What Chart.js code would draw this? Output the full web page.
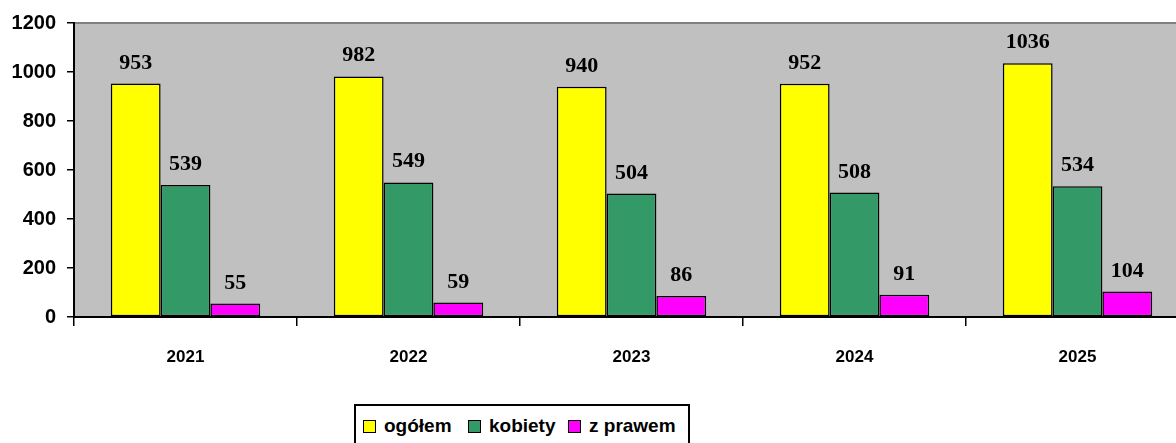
<!DOCTYPE html>
<html>
<head>
<meta charset="utf-8">
<script src="https://cdn.jsdelivr.net/npm/chart.js@4"></script>
<style>
    body { margin: 0; background: #fff; overflow: hidden; }
    #wrap { position: relative; width: 1200px; height: 443px; }
    #legend {
        position: absolute; left: 354px; top: 404px; width: 336px; height: 50px;
        border: 2px solid #000; box-sizing: border-box; background: #fff;
        font: bold 19px Arial, "Liberation Sans", sans-serif; color: #000;
    }
    #legend span.item { position: absolute; top: 9px; white-space: nowrap; }
    #legend i {
        display: inline-block; width: 11px; height: 11px; border: 1.5px solid #000;
        margin-right: 8px; vertical-align: -1px;
    }
</style>
</head>
<body>
<div id="wrap">
    <canvas id="chart" width="1200" height="443"></canvas>
    <div id="legend"></div>
</div>
<script>
const years = ['2021', '2022', '2023', '2024', '2025'];
const ogolem = [953, 982, 940, 952, 1036];
const kobiety = [539, 549, 504, 508, 534];
const zPrawem = [55, 59, 86, 91, 104];
const yTicks = [0, 200, 400, 600, 800, 1000, 1200];

document.addEventListener('DOMContentLoaded', function() {
    const series = [
        { label: 'ogółem', data: ogolem, color: '#ffff00' },
        { label: 'kobiety', data: kobiety, color: '#339966' },
        { label: 'z prawem', data: zPrawem, color: '#ff00ff' }
    ];

    // plot background and top border line
    const plotBg = {
        id: 'plotBg',
        beforeDraw(chart) {
            const a = chart.chartArea, ctx = chart.ctx;
            ctx.save();
            ctx.fillStyle = '#c0c0c0';
            ctx.fillRect(a.left, a.top, a.right - a.left, a.bottom - a.top);
            ctx.strokeStyle = '#808080';
            ctx.lineWidth = 2;
            ctx.beginPath();
            ctx.moveTo(a.left, a.top);
            ctx.lineTo(a.right, a.top);
            ctx.stroke();
            ctx.restore();
        }
    };

    // value labels above bars
    const valueLabels = {
        id: 'valueLabels',
        afterDatasetsDraw(chart) {
            const ctx = chart.ctx;
            ctx.save();
            ctx.font = 'bold 22px "Times New Roman", "Liberation Serif", serif';
            ctx.fillStyle = '#000';
            ctx.textAlign = 'center';
            ctx.textBaseline = 'alphabetic';
            chart.data.datasets.forEach(function(ds, i) {
                chart.getDatasetMeta(i).data.forEach(function(bar, j) {
                    ctx.fillText(ds.data[j], bar.x, bar.y - 15);
                });
            });
            ctx.restore();
        }
    };

    const ctx = document.getElementById('chart').getContext('2d');
    new Chart(ctx, {
        type: 'bar',
        data: {
            labels: years,
            datasets: series.map(function(s) {
                return {
                    label: s.label,
                    data: s.data,
                    backgroundColor: s.color,
                    borderColor: '#000',
                    borderWidth: 1.5,
                    borderSkipped: false,
                    categoryPercentage: 0.67,
                    barPercentage: 1.0
                };
            })
        },
        options: {
            responsive: false,
            animation: false,
            layout: { padding: { top: 23, right: 11, left: 0, bottom: 0 } },
            plugins: {
                legend: { display: false },
                tooltip: { enabled: false }
            },
            scales: {
                x: {
                    grid: { display: true, drawOnChartArea: false, offset: true, color: '#000', lineWidth: 1.5, tickLength: 9 },
                    border: { color: '#000', width: 2 },
                    ticks: { color: '#000', font: { family: 'Arial', weight: 'bold', size: 17 }, padding: 21 },
                    afterFit(scale) { scale.height = 126; }
                },
                y: {
                    min: 0,
                    max: 1200,
                    afterBuildTicks(scale) { scale.ticks = yTicks.map(function(v) { return { value: v }; }); },
                    grid: { display: true, drawOnChartArea: false, color: '#000', lineWidth: 1.5, tickLength: 7 },
                    border: { color: '#000', width: 2 },
                    ticks: {
                        color: '#000',
                        font: { family: 'Arial', weight: 'bold', size: 20 },
                        padding: 11,
                        callback: function(v) { return String(v); }
                    },
                    afterFit(scale) { scale.width = 74; }
                }
            }
        },
        plugins: [plotBg, valueLabels]
    });

    // legend
    const legend = document.getElementById('legend');
    const lefts = [7, 112, 212];
    series.forEach(function(s, i) {
        const el = document.createElement('span');
        el.className = 'item';
        el.style.left = lefts[i] + 'px';
        el.innerHTML = '<i style="background:' + s.color + '"></i>' + s.label;
        legend.appendChild(el);
    });
});
</script>
</body>
</html>
